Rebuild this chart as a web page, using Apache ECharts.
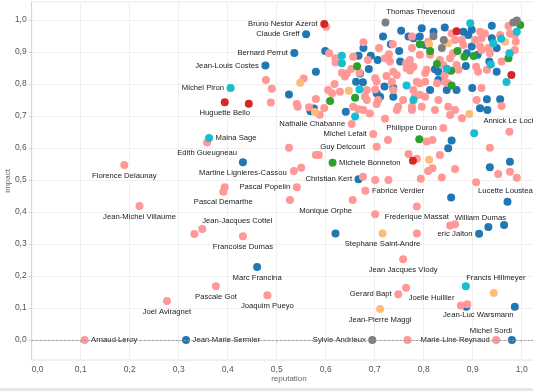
<!DOCTYPE html>
<html><head><meta charset="utf-8">
<script src="https://cdn.jsdelivr.net/npm/echarts@6/dist/echarts.min.js"></script>
<style>html,body{margin:0;padding:0;background:#fff}#c{width:533px;height:391px}</style>
</head><body><div id="c"></div>
<script>
// x = reputation, y = impact, optional deputy name
const blue = [
[0.560,0.955,'Claude Greff'],[0.536,0.897,'Bernard Perrut'],[0.477,0.858,'Jean-Louis Costes'],
[0.599,0.903],[0.580,0.838],[0.525,0.767],[0.576,0.723],[0.569,0.715],[0.641,0.713],
[0.431,0.555,'Martine Lignieres-Cassou'],
[0.717,0.948],[0.754,0.966],[0.733,0.924],[0.750,0.903],[0.692,0.888],[0.667,0.888],[0.706,0.875],
[0.688,0.847],[0.662,0.807],[0.676,0.805],[0.720,0.792],[0.711,0.760],[0.738,0.760],[0.796,0.974],
[0.843,0.976],[0.939,0.982],[0.769,0.948],[0.779,0.943],[0.677,0.912],[0.670,0.833],[0.830,0.838],
[0.738,0.787],[0.813,0.781],[0.867,0.781],[0.899,0.787],[0.929,0.752],[0.956,0.752],[0.934,0.870],
[0.930,0.719],[0.850,0.599],[0.857,0.623],[0.935,0.540],[0.976,0.557],
[0.667,0.502,'Christian Kert'],[0.856,0.445],[0.971,0.432,'Lucette Lousteau'],
[0.913,0.332,'eric Jalton'],[0.932,0.353,'William Dumas'],[0.964,0.359],[0.620,0.333],
[0.460,0.228,'Marc Francina'],[0.887,0.104,'Jean-Luc Warsmann'],[0.986,0.104],
[0.315,0,'Jean-Marie Sermier'],[0.980,0,'Michel Sordi'],
[0.820,0.963],[0.881,0.963],[0.898,0.969],[0.792,0.948],[0.803,0.922],[0.891,0.953],[0.898,0.917],
[0.949,0.912],[0.888,0.896],[0.910,0.891],[0.823,0.846],[0.886,0.856],[0.949,0.838],[0.830,0.8125],
[0.847,0.781],[0.915,0.724],[0.704,0.771],[0.752,0.870],[0.939,0.943]
];
const pink = [
[0.189,0.547,'Florence Delaunay'],[0.220,0.419,'Jean-Michel Villaume'],[0.276,0.122,'Joel Aviragnet'],
[0.108,0,'Arnaud Leroy'],[0.358,0.617,'Edith Gueugneau'],[0.394,0.477],[0.391,0.463,'Pascal Demarthe'],
[0.332,0.331],[0.348,0.347,'Jean-Jacques Cottel'],[0.431,0.324,'Francoise Dumas'],[0.376,0.168,'Pascale Got'],
[0.481,0.140,'Joaquim Pueyo'],[0.527,0.4375],[0.541,0.477,'Pascal Popelin'],[0.535,0.528],[0.550,0.538],
[0.525,0.601],[0.580,0.578],[0.586,0.578],[0.601,0.979],[0.607,0.896],[0.620,0.880],[0.626,0.870],
[0.620,0.867],[0.633,0.835],[0.643,0.833],[0.639,0.823],[0.478,0.812],[0.555,0.817],[0.490,0.785],
[0.618,0.800],[0.605,0.781],[0.613,0.771],[0.488,0.742],[0.541,0.7375],[0.543,0.729],[0.580,0.753],
[0.566,0.727],[0.597,0.725],[0.588,0.704],[0.677,0.930],[0.737,0.924],[0.709,0.912],[0.729,0.893],
[0.721,0.880],[0.686,0.875],[0.652,0.847],[0.669,0.835],[0.704,0.808],[0.701,0.783],[0.724,0.825],
[0.629,0.776],[0.680,0.760],[0.684,0.750],[0.707,0.750],[0.704,0.737],[0.738,0.781],[0.748,0.729],
[0.745,0.719],[0.758,0.750],[0.667,0.721],[0.721,0.691],
[0.653,0.675,'Nathalie Chabanne'],[0.697,0.644,'Michel Lefait'],[0.704,0.604,'Guy Delcourt'],
[0.727,0.625],[0.806,0.620],[0.818,0.625],[0.840,0.662,'Philippe Duron'],[0.975,0.651,'Annick Le Lock'],
[0.935,0.601],[0.769,0.581],[0.786,0.566],[0.833,0.578],[0.676,0.510],[0.701,0.500],[0.728,0.500],
[0.809,0.528],[0.818,0.537],[0.794,0.504],[0.837,0.508],[0.864,0.534],[0.952,0.519],[0.976,0.526],
[0.990,0.507],[0.907,0.493],[0.681,0.466,'Fabrice Verdier'],[0.655,0.4375,'Monique Orphe'],
[0.786,0.417,'Frederique Massat'],[0.701,0.393],[0.854,0.358],[0.864,0.362],[0.786,0.333],
[0.758,0.252,'Jean Jacques Vlody'],[0.764,0.163],[0.748,0.143,'Gerard Bapt'],[0.876,0.108,'Joelle Huillier'],
[0.889,0.112],[0.767,0],[0.948,0,'Marie-Line Reynaud'],
[0.973,0.981],[0.857,0.958],[0.915,0.963],[0.925,0.958],[0.976,0.958],[0.776,0.948],[0.809,0.932],
[0.864,0.9375],[0.878,0.9375],[0.881,0.922],[0.905,0.9375],[0.918,0.943],[0.956,0.953],[0.986,0.953],
[0.988,0.932],[0.915,0.917],[0.918,0.906],[0.976,0.896],[0.986,0.906],[0.959,0.870],[0.776,0.912],
[0.860,0.896],[0.854,0.880],[0.932,0.912],[0.935,0.896],[0.792,0.891],[0.764,0.865],[0.833,0.875],
[0.840,0.859],[0.867,0.859],[0.871,0.844],[0.907,0.854],[0.911,0.838],[0.765,0.849],[0.779,0.854],
[0.803,0.834],[0.792,0.802],[0.803,0.807],[0.843,0.807],[0.918,0.787],[0.782,0.760],[0.792,0.766],
[0.803,0.760],[0.908,0.750],[0.776,0.729],[0.776,0.719],[0.850,0.729],[0.864,0.719],[0.878,0.693],
[0.959,0.731],[0.656,0.885],[0.731,0.870],[0.772,0.875],[0.738,0.838],[0.772,0.842],[0.806,0.844],
[0.929,0.844],[0.701,0.818],[0.684,0.781],[0.735,0.807],[0.786,0.807],[0.827,0.802],[0.850,0.802],
[0.779,0.781],[0.796,0.729],[0.830,0.750],[0.656,0.729],[0.677,0.719],[0.854,0.703],[0.823,0.719],
[0.745,0.828],[0.813,0.891],[0.843,0.828],[0.690,0.708]
];
const green = [
[0.609,0.747],[0.664,0.855],[0.660,0.757],[0.614,0.554,'Michele Bonneton'],[0.792,0.924],[0.813,0.903],
[0.869,0.903],[0.883,0.885],[0.902,0.887],[0.973,0.880],[0.997,0.984],[0.827,0.862],[0.856,0.841],
[0.857,0.795],[0.791,0.627]
];
const red = [
[0.597,0.9875,'Bruno Nestor Azerot'],[0.394,0.743,'Huguette Bello'],[0.443,0.738],[0.867,0.965],
[0.979,0.828],[0.778,0.560]
];
const cyan = [
[0.406,0.7875,'Michel Piron'],[0.362,0.631,'Maina Sage'],[0.633,0.888],[0.633,0.865],[0.669,0.783],
[0.660,0.698],[0.895,0.990],[0.990,0.963],[0.942,0.927],[0.975,0.896],[0.937,0.861],[0.847,0.8475],
[0.765,0.795],[0.779,0.750],[0.969,0.806],[0.903,0.646],[0.886,0.168,'Francis Hillmeyer'],[0.958,0.941]
];
const orange = [
[0.548,0.804],[0.647,0.779],[0.578,0.712],[0.811,0.924],[0.850,0.927],[0.966,0.932],[0.893,0.706],
[0.811,0.563],[0.716,0.333,'Stephane Saint-Andre'],[0.943,0.147],[0.711,0.097,'Jean-Pierre Maggi']
];
const grey = [
[0.722,0.992,'Thomas Thevenoud'],[0.820,0.949],[0.841,0.9375],[0.837,0.912],[0.983,0.992],[0.990,0.998],
[0.695,0,'Sylvie Andrieux']
];

// label placement: [position, dx, dy]
const placement = {
 'Guy Delcourt':['left',-5,0], 'Monique Orphe':['bottom',-27,0], 'William Dumas':['top',-8,1],
 'Lucette Lousteau':['top',0,0], 'Francis Hillmeyer':['top',30,2], 'Joelle Huillier':['left',0,-7.5],
 'Jean-Luc Warsmann':['bottom',12,-2], 'Thomas Thevenoud':['top',35,0], 'Annick Le Lock':['top',0,0],
 'Jean-Jacques Cottel':['top',35,2], 'Michel Sordi':['top',-21,1.5],
 'Huguette Bello':['bottom'], 'Edith Gueugneau':['bottom'], 'Martine Lignieres-Cassou':['bottom'],
 'Pascal Demarthe':['bottom'], 'Frederique Massat':['bottom'], 'Stephane Saint-Andre':['bottom'],
 'Jean Jacques Vlody':['bottom'], 'Jean-Pierre Maggi':['bottom'], 'Marc Francina':['bottom'],
 'Pascale Got':['bottom'], 'Joaquim Pueyo':['bottom'], 'Francoise Dumas':['bottom'],
 'Joel Aviragnet':['bottom'], 'Florence Delaunay':['bottom'], 'Jean-Michel Villaume':['bottom'],
 'Maina Sage':['right'], 'Michele Bonneton':['right'], 'Fabrice Verdier':['right'],
 'Arnaud Leroy':['right'], 'Jean-Marie Sermier':['right']
};

const FONT = "Arial, 'Liberation Sans', sans-serif";
function build(arr, color){
  return {
    type:'scatter', symbolSize:8, z:2, silent:true,
    itemStyle:{color:color, opacity:1},
    label:{show:false, formatter:'{b}', color:'#222', fontSize:7.7, fontFamily:FONT, distance:2.5},
    data: arr.map(p=>{
      const it = {value:[p[0],p[1]]};
      if (p[2]) {
        const pl = placement[p[2]] || ['left'];
        it.name = p[2];
        it.label = {show:true, position:pl[0], offset:[pl[1]||0, pl[2]||0]};
      }
      return it;
    })
  };
}
const fmt = v => (Math.abs(v) < 1e-9 ? 0 : v).toFixed(1).replace('.', ',');
const chart = echarts.init(document.getElementById('c'), null, {renderer:'canvas'});
chart.setOption({
  animation:false,
  backgroundColor:'#fff',
  grid:{left:31.7, top:1.7, width:514.5, height:358.3, show:true, borderColor:'#e3e3e3', borderWidth:1,
        containLabel:false, outerBoundsMode:'none'},
  xAxis:{type:'value', min:0, max:1.05, minInterval:0.1, maxInterval:0.1,
    name:'reputation', nameLocation:'middle', nameGap:15, nameMoveOverlap:false,
    nameTextStyle:{fontSize:8, color:'#666', fontFamily:FONT},
    axisLine:{show:true, lineStyle:{color:'#d6d6d6'}},
    axisTick:{show:true, length:3, lineStyle:{color:'#cfcfcf'}},
    axisLabel:{formatter:fmt, fontSize:8.5, color:'#555', margin:5, fontFamily:FONT,
      showMaxLabel:false, alignMinLabel:'left'},
    splitLine:{show:true, lineStyle:{color:'#efefef'}}},
  yAxis:{type:'value', min:-0.0625, max:1.057, minInterval:0.1, maxInterval:0.1,
    name:'impact', nameLocation:'middle', nameGap:20, nameMoveOverlap:false,
    nameTextStyle:{fontSize:8, color:'#666', fontFamily:FONT},
    axisLine:{show:true, lineStyle:{color:'#d6d6d6'}},
    axisTick:{show:true, length:3, lineStyle:{color:'#cfcfcf'}},
    axisLabel:{formatter:fmt, fontSize:8.5, color:'#555', margin:5, fontFamily:FONT,
      showMinLabel:false, showMaxLabel:false},
    splitLine:{show:true, lineStyle:{color:'#efefef'}}},
  graphic:[{type:'rect', left:0, top:388, z:100, shape:{width:533, height:3}, style:{fill:'#e6e6e6'}}],
  series:[
    {type:'scatter', data:[], z:1, silent:true,
     markLine:{silent:true, symbol:'none', label:{show:false},
       lineStyle:{color:'#9a9a9a', type:[2,2], width:1}, data:[{yAxis:0}]}},
    build(blue,'#1f77b4'),
    build(pink,'#ff9896'),
    build(orange,'#ffbb78'),
    build(green,'#2ca02c'),
    build(cyan,'#17becf'),
    build(red,'#d62728'),
    build(grey,'#7f7f7f')
  ]
});
</script></body></html>
